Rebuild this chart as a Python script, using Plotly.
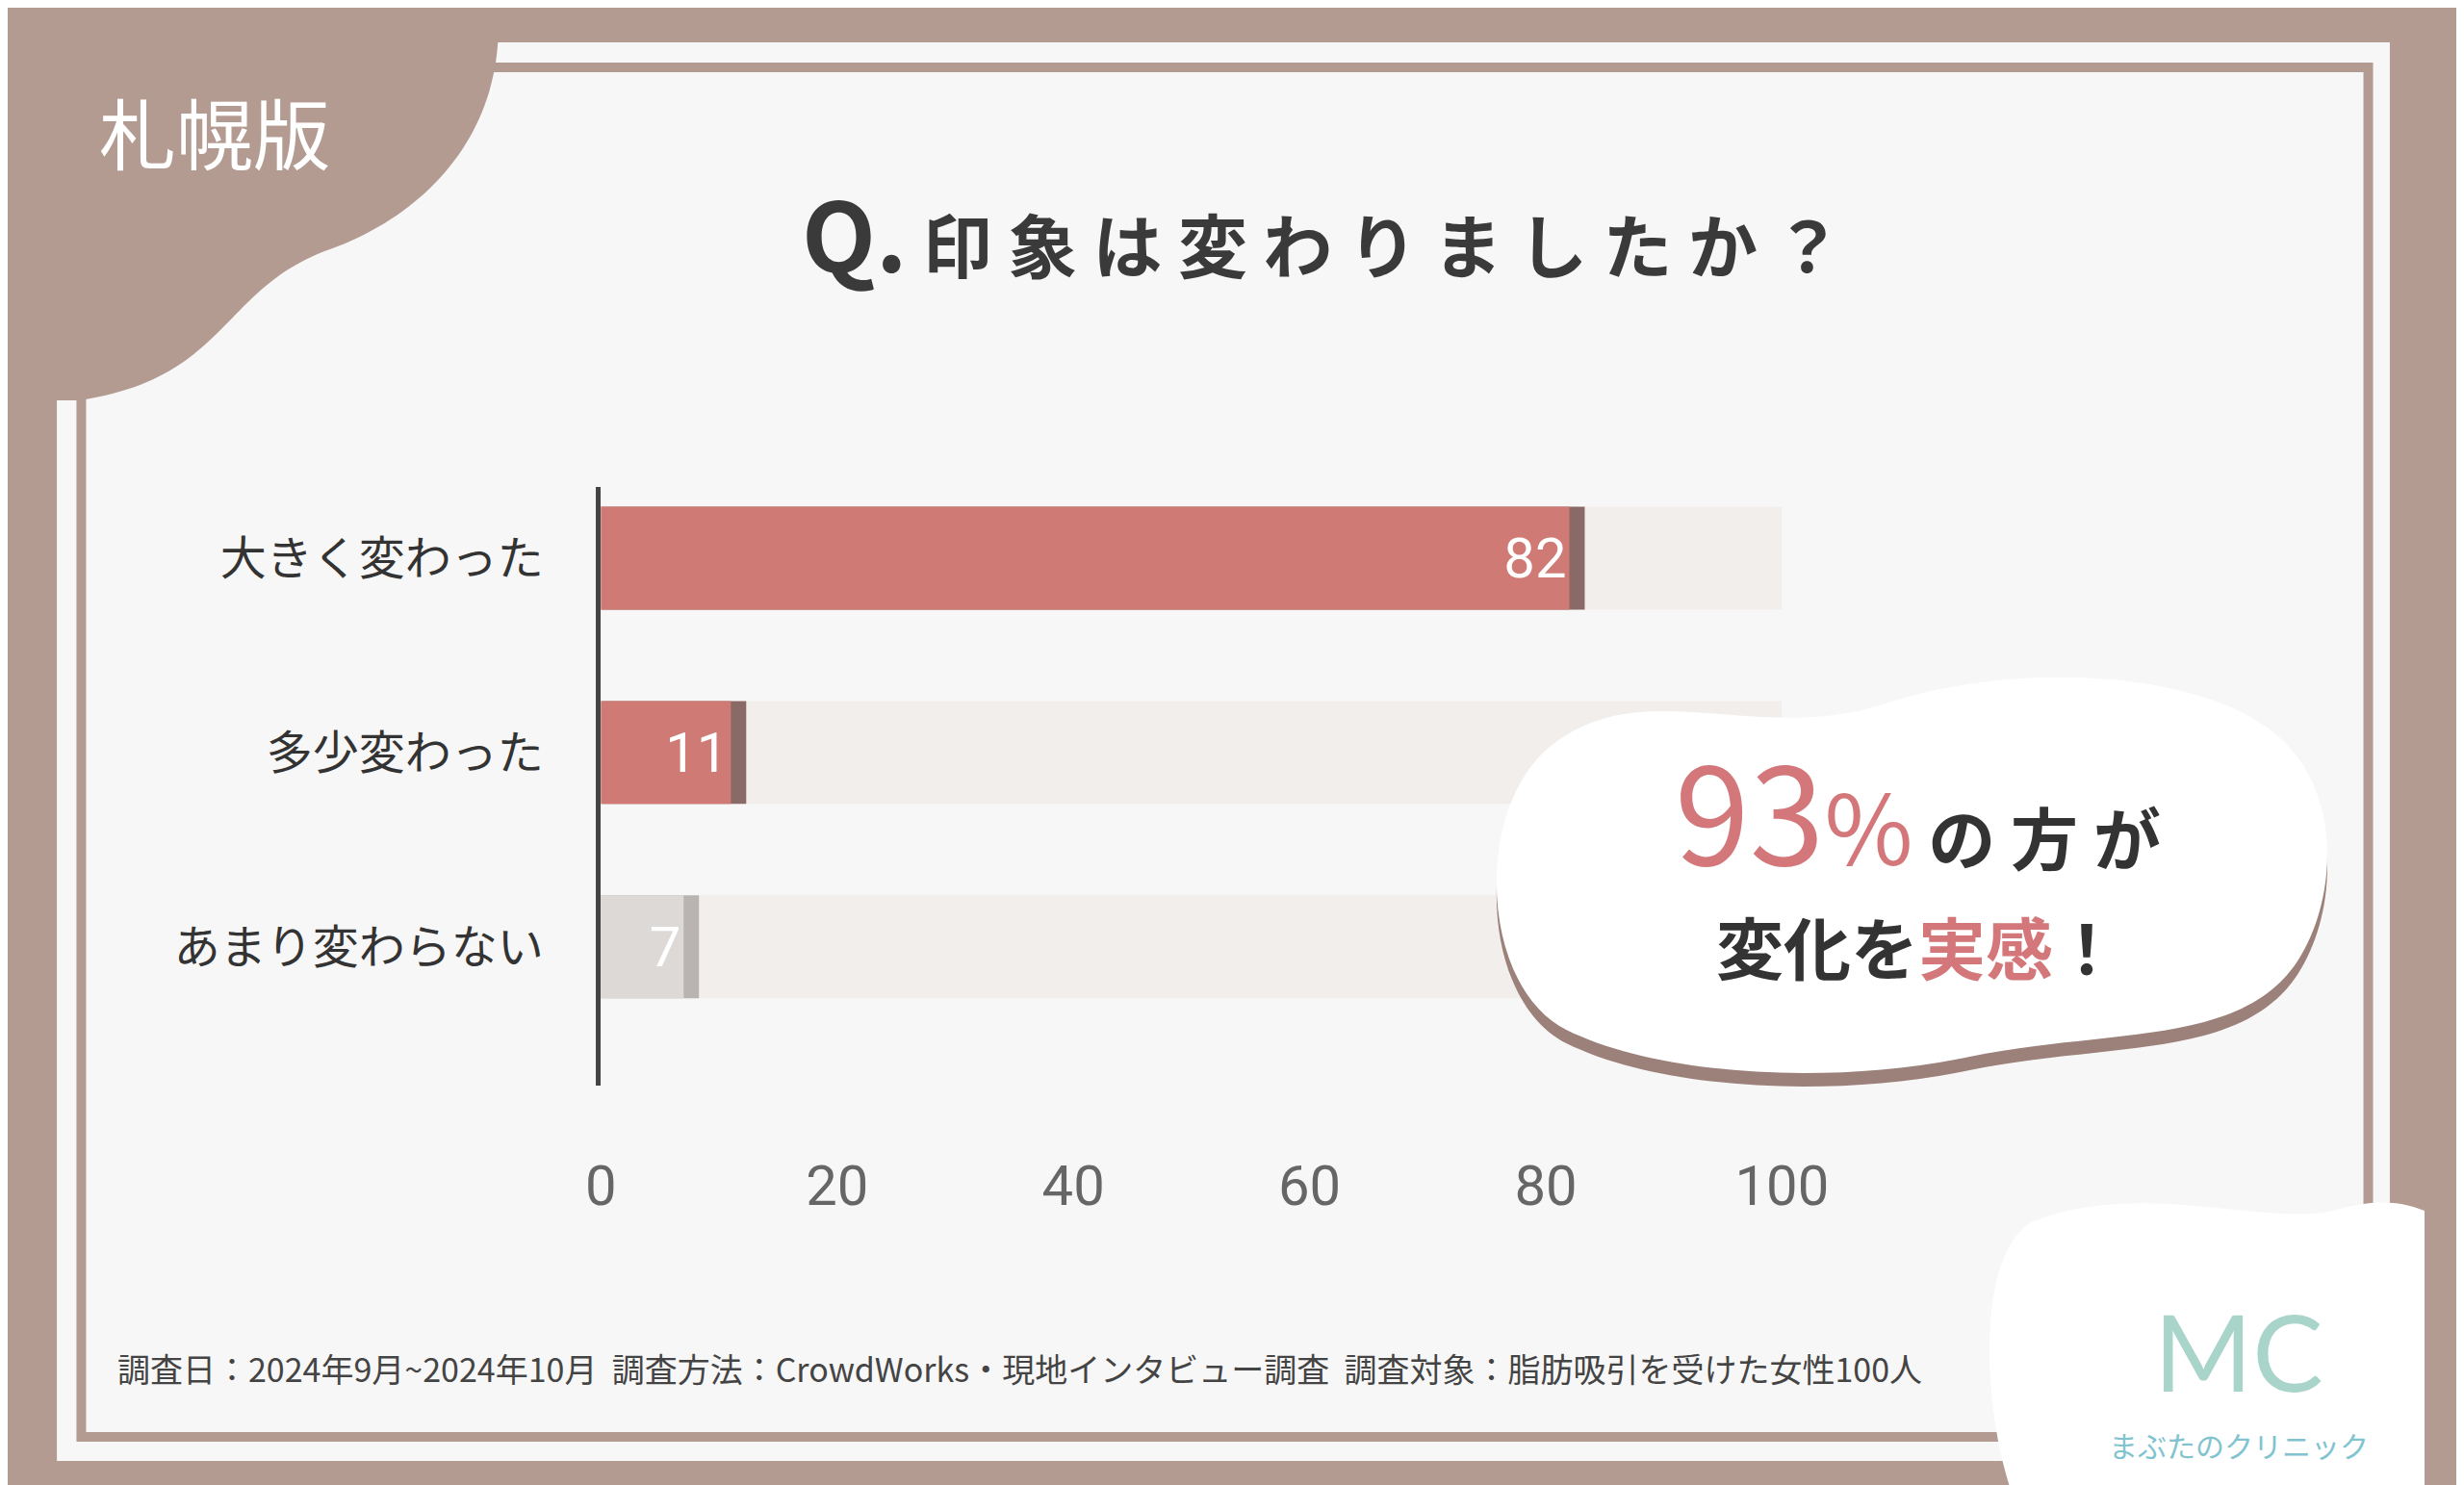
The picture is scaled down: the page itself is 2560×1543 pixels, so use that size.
import re
import plotly.graph_objects as go

categories = ["大きく変わった", "多少変わった", "あまり変わらない"]
values = [82, 11, 7]
full = [100, 100, 100]
ticks = [0, 20, 40, 60, 80, 100]
bar_colors = ["#cf7a74", "#cf7a74", "#dcd9d7"]
edge_colors = ["#8a6a66", "#8a6a66", "#b9b4b1"]

W, H = 2560, 1543
BROWN = "#b39b91"
FONT = "Noto Sans CJK JP"
pos = list(range(len(categories)))

fig = go.Figure()
fig.add_bar(y=pos, x=full, orientation="h", width=0.53,
            marker=dict(color="#f1eeec", line_width=0), hoverinfo="skip")
fig.add_bar(y=pos, x=[v + 1.3 for v in values], orientation="h", width=0.53,
            marker=dict(color=edge_colors, line_width=0), hoverinfo="skip")
fig.add_bar(y=pos, x=values, orientation="h", width=0.53,
            marker=dict(color=bar_colors, line_width=0),
            text=[str(v) for v in values], textposition="inside",
            insidetextanchor="end", textangle=0,
            textfont=dict(color="white", size=58, family="Roboto"))

fig.update_layout(
    width=W, height=H, barmode="overlay", showlegend=False,
    margin=dict(l=0, r=0, t=0, b=0),
    paper_bgcolor=BROWN, plot_bgcolor="rgba(0,0,0,0)",
    font=dict(family=FONT),
    xaxis=dict(domain=[616 / W, 1875 / W], range=[0, 100], tickvals=ticks,
               showgrid=False, zeroline=False, showline=False, ticks="",
               tickfont=dict(size=58, color="#666", family="Roboto"),
               anchor="free", position=1 - 1185 / H),
    yaxis=dict(domain=[1 - 1120 / H, 1 - 498 / H], range=[2.715, -0.367],
               tickvals=pos, ticktext=categories, showgrid=False,
               zeroline=False, showline=True, linecolor="#444", linewidth=5,
               ticks="", ticklabelstandoff=45,
               tickfont=dict(size=48, color="#333")),
)


def px2paper(path):
    def conv(m):
        x, y = float(m.group(1)), float(m.group(2))
        return f"{x / W:.5f},{1 - y / H:.5f}"
    return re.sub(r"(-?[\d.]+),(-?[\d.]+)", conv, path)


def rect(x0, y0, x1, y1, **kw):
    fig.add_shape(type="rect", xref="paper", yref="paper",
                  x0=x0 / W, x1=x1 / W, y0=1 - y0 / H, y1=1 - y1 / H, **kw)


def blob(path, color):
    fig.add_shape(type="path", xref="paper", yref="paper", path=px2paper(path),
                  fillcolor=color, line_width=0, layer="below")


rect(36, 36, 2523, 1510, fillcolor="#f8f7f7", line_width=0, layer="below")
rect(62, 62, 2500, 1485, line=dict(color=BROWN, width=10), layer="below")
blob("M0,0 L506,0 C515,120 440,210 330,250 C210,290 220,385 60,408 L0,408 Z", BROWN)
blob("M2140,1262 C2260,1215 2400,1270 2470,1248 C2520,1235 2545,1245 2560,1250 L2560,1543 L2120,1543 C2090,1460 2080,1300 2140,1262 Z", "white")

cloud = ("M1625,770 C1725,688 1845,768 1985,723 C2125,678 2325,688 2405,758 "
         "C2475,818 2465,930 2425,990 C2365,1080 2225,1060 2075,1090 "
         "C1925,1120 1745,1110 1645,1062 C1555,1018 1545,838 1625,770 Z")
shadow = re.sub(r"(-?[\d.]+),(-?[\d.]+)",
                lambda m: f"{m.group(1)},{float(m.group(2)) + 14}", cloud)
fig.add_shape(type="path", xref="paper", yref="paper", path=px2paper(shadow),
              fillcolor="#9b817a", line_width=0, layer="above")
fig.add_shape(type="path", xref="paper", yref="paper", path=px2paper(cloud),
              fillcolor="white", line_width=0, layer="above")


def txt(x, y, text, size, color="#333", anchor="center", family=FONT):
    fig.add_annotation(x=x / W, y=1 - y / H, xref="paper", yref="paper", text=text,
                       showarrow=False, xanchor=anchor, yanchor="middle",
                       font=dict(size=size, color=color, family=family))


txt(204, 127, "札幌版", 80, "white")
txt(1385, 232, "<b><span style='font-size:100px'>Q.</span> 印 象 は 変 わ り ま し た か ？</b>", 72, "#3a3a3a")
txt(2020, 830, "<span style='font-size:140px;color:#d4777a'>93</span><span style='font-size:100px;color:#d4777a'>%</span> <b>の 方 が</b>", 70, "#333")
txt(2020, 975, "<b>変化を<span style='color:#d4777a'>実感</span>！</b>", 70, "#333")
txt(98, 1413, "調査日：2024年9月~2024年10月  調査方法：CrowdWorks・現地インタビュー調査  調査対象：脂肪吸引を受けた女性100人",
    34, "#444", anchor="left")
txt(2362, 1395, "MC", 110, "#a9d4c9", family="Lato")
txt(2362, 1493, "まぶたのクリニック", 30, "#7fc4cf")

fig.write_html("out.html")
